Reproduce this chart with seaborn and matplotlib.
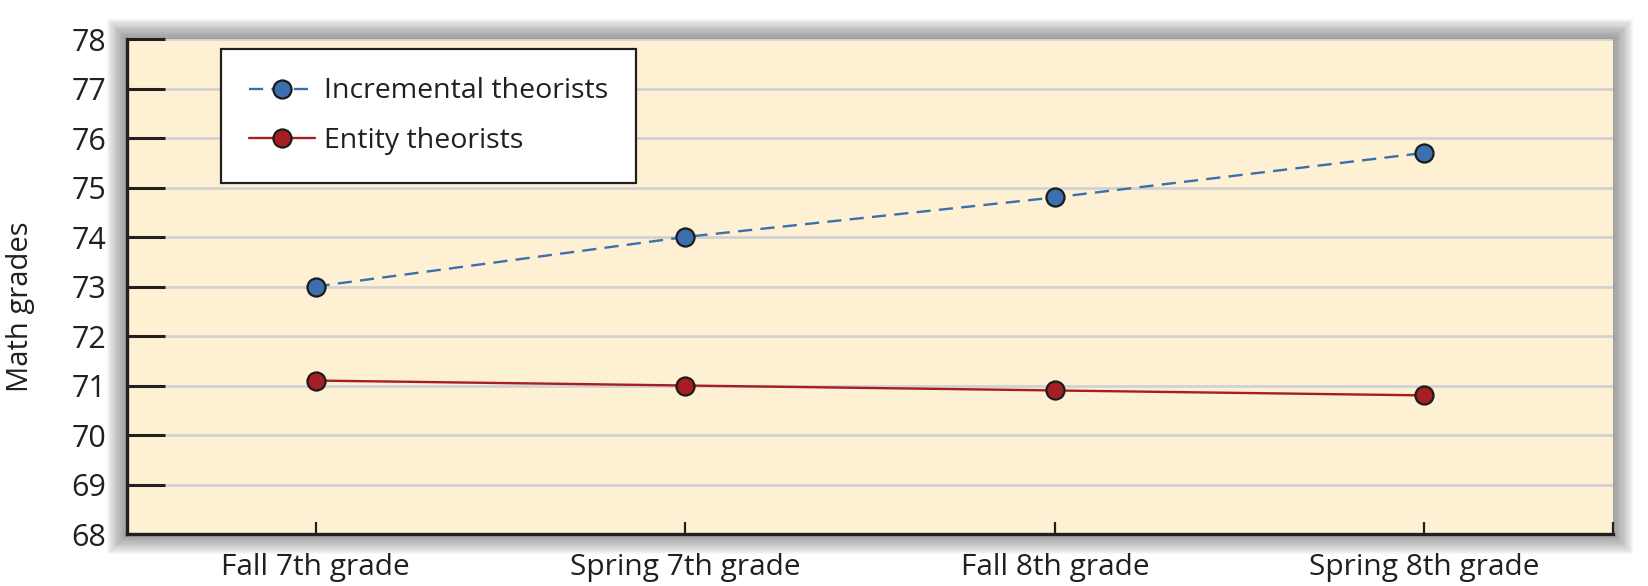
import pandas as pd
import matplotlib.pyplot as plt
import seaborn as sns
from matplotlib.patches import Rectangle
from matplotlib.lines import Line2D

# ── Data ────────────────────────────────────────────────────────────────────

periods = ["Fall 7th grade", "Spring 7th grade", "Fall 8th grade", "Spring 8th grade"]
incremental = [73.0, 74.0, 74.8, 75.7]
entity = [71.1, 71.0, 70.9, 70.8]
y_ticks = list(range(68, 79))
groups = ["Incremental theorists", "Entity theorists"]

BLUE = "#3B6FAD"
RED = "#A61E24"
BG = "#FEF0D3"
INK = "#231F20"

df = pd.DataFrame({
    "period": periods * 2,
    "grade": incremental + entity,
    "group": [groups[0]] * len(periods) + [groups[1]] * len(periods),
})

# ── Style ───────────────────────────────────────────────────────────────────

sns.set_style("white")
plt.rcParams["font.family"] = ["Open Sans", "DejaVu Sans"]

W, H = 1648, 586
fig = plt.figure(figsize=(W / 100, H / 100), dpi=100)
left, right, top, bottom = 127, 1613, 39, 534
ax = fig.add_axes([left / W, 1 - bottom / H, (right - left) / W, (bottom - top) / H])
ax.set_facecolor(BG)

# soft drop shadow around the plot panel
for i in range(18):
    pad = 1.2 * i
    fig.patches.append(Rectangle(
        ((left - pad) / W, 1 - (bottom + pad) / H),
        (right - left + 2 * pad) / W, (bottom - top + 2 * pad) / H,
        transform=fig.transFigure, facecolor="#4a4a4a", edgecolor="none",
        alpha=0.04, zorder=-10,
    ))

# ── Lines ───────────────────────────────────────────────────────────────────

DASH = (6, 3.5)
sns.lineplot(
    data=df, x="period", y="grade", hue="group", style="group",
    palette={groups[0]: BLUE, groups[1]: RED},
    dashes={groups[0]: DASH, groups[1]: ""},
    markers={groups[0]: "o", groups[1]: "o"},
    markersize=13, markeredgecolor="#1b1b1b", markeredgewidth=1.6,
    linewidth=1.7, sort=False, ax=ax, legend=False, zorder=3,
)

ax.set_xlim(-0.51, 3.51)
ax.set_ylim(68, 78)
ax.set_yticks(y_ticks)
ax.set_xticks(range(len(periods)))
ax.set_xticklabels(periods)
ax.set_xticks([3.51], minor=True)

ax.grid(axis="y", color="#D2D2D2", linewidth=2)
ax.grid(axis="x", visible=False)
ax.set_axisbelow(True)

for side in ["top", "right"]:
    ax.spines[side].set_visible(False)
for side in ["left", "bottom"]:
    ax.spines[side].set_color(INK)
    ax.spines[side].set_linewidth(2.4)

ax.tick_params(axis="y", direction="in", length=27, width=2.2, color=INK,
               labelsize=22, labelcolor=INK, pad=15, left=True)
ax.tick_params(axis="x", which="both", direction="in", length=9, width=1.6, color=INK,
               labelsize=21.5, labelcolor=INK, pad=14, bottom=True)

ax.set_xlabel("")
ax.set_ylabel("Math grades", fontsize=21, color=INK)
ax.yaxis.set_label_coords(-0.062, 0.46)

# ── Legend ──────────────────────────────────────────────────────────────────

handles = [
    Line2D([], [], color=BLUE, linestyle=(0, DASH), linewidth=1.7, marker="o",
           markersize=13, markerfacecolor=BLUE, markeredgecolor="#1b1b1b", markeredgewidth=1.6),
    Line2D([], [], color=RED, linewidth=1.7, marker="o",
           markersize=13, markerfacecolor=RED, markeredgecolor="#1b1b1b", markeredgewidth=1.6),
]
leg = ax.legend(
    handles=handles, labels=groups, loc="upper left",
    bbox_to_anchor=((221 - left) / (right - left), (bottom - 49) / (bottom - top)),
    fontsize=20.5, frameon=True, fancybox=False, framealpha=1,
    edgecolor=INK, handlelength=2.3, handletextpad=0.3,
    labelspacing=0.75, borderpad=1.0, borderaxespad=0,
)
leg.get_frame().set_linewidth(1.6)
for t in leg.get_texts():
    t.set_color(INK)

fig.savefig("out.png", dpi=100)
